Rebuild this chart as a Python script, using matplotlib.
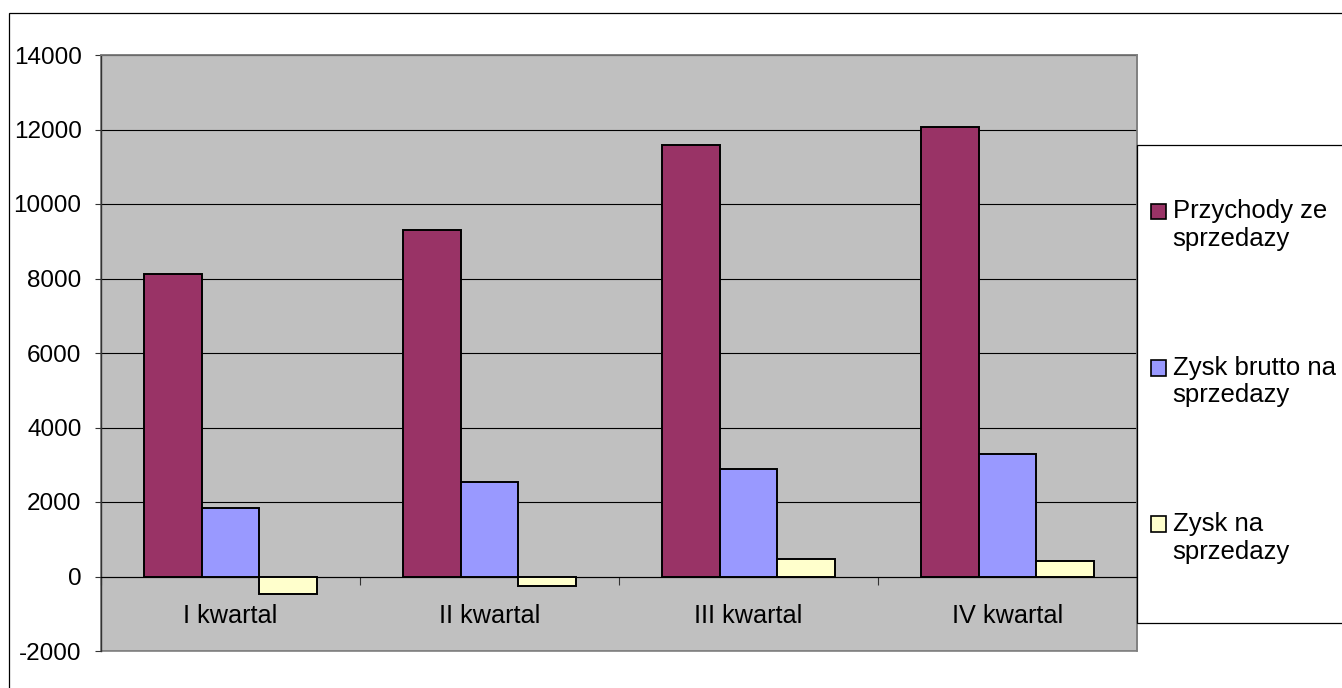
import matplotlib
matplotlib.use("Agg")
import matplotlib.pyplot as plt
import numpy as np
from matplotlib.patches import Rectangle
from matplotlib.legend_handler import HandlerPatch

categories = ["I kwartal", "II kwartal", "III kwartal", "IV kwartal"]
series_names = ["Przychody ze\nsprzedazy", "Zysk brutto na\nsprzedazy", "Zysk na\nsprzedazy"]
przychody = [8120, 9300, 11590, 12070]
zysk_brutto = [1830, 2540, 2895, 3280]
zysk_na = [-475, -250, 475, 420]
colors = ["#993366", "#9999FF", "#FFFFCC"]
yticks = [-2000, 0, 2000, 4000, 6000, 8000, 10000, 12000, 14000]

plt.rcParams['font.family'] = ['Liberation Sans', 'DejaVu Sans']
FS = 17.5
FS_CAT = 18.2
FS_LEG = 18.5

W, H = 1342, 688
fig = plt.figure(figsize=(W / 100, H / 100), dpi=100)
fig.patch.set_facecolor("white")

# chart area border
fig.patches.append(Rectangle((9 / W, -20 / H), 1400 / W, (H - 12.7 + 20) / H,
                             transform=fig.transFigure, facecolor="none",
                             edgecolor="black", linewidth=0.9, zorder=0))

L, R, T, B = 101, 1137, 55, 651
ax = fig.add_axes([L / W, 1 - B / H, (R - L) / W, (B - T) / H])
ax.set_facecolor("#C0C0C0")

x = np.arange(len(categories))
w = 1 / 4.5
data = [przychody, zysk_brutto, zysk_na]
bars = []
for i, (vals, c) in enumerate(zip(data, colors)):
    b = ax.bar(x + (i - 1) * w, vals, width=w, color=c, edgecolor="black",
               linewidth=1.4, zorder=3)
    bars.append(b)

ax.set_xlim(-0.5, len(categories) - 0.5)
ax.set_ylim(-2000, 14000)
ax.set_yticks(yticks)
ax.set_yticklabels([str(v) for v in yticks])
ax.yaxis.grid(True, color="black", linewidth=0.8, zorder=1)
ax.set_axisbelow(True)

ax.set_xticks(x)
ax.set_xticklabels(categories)
ax.set_xticks(np.arange(-0.5, len(categories), 1.0), minor=True)
ax.tick_params(axis="x", which="major", length=0, pad=19.5, labelsize=FS_CAT)
ax.tick_params(axis="x", which="minor", length=6, width=0.8, color="#333333", direction="out")
ax.tick_params(axis="y", which="major", length=4, width=0.8, color="#333333", pad=10,
               labelsize=FS)

ax.spines["bottom"].set_position(("data", 0))
ax.spines["bottom"].set_color("black")
ax.spines["bottom"].set_linewidth(0.8)
ax.spines["left"].set_color("#333333")
ax.spines["left"].set_linewidth(1.0)
for s in ["top", "right"]:
    ax.spines[s].set_color("#808080")
    ax.spines[s].set_linewidth(1.2)

# bottom border of plot area
ax.add_patch(Rectangle((0, 0), 1, 1, transform=ax.transAxes, facecolor="none",
                       edgecolor="#808080", linewidth=1.2, zorder=0.5, clip_on=False))

# legend box
LB_T, LB_B = 145, 622.7
fig.patches.append(Rectangle((1137 / W, 1 - LB_B / H), 400 / W, (LB_B - LB_T) / H,
                             transform=fig.transFigure, facecolor="white",
                             edgecolor="black", linewidth=0.9, zorder=5))


def make_square(legend, orig_handle, xdescent, ydescent, width, height, fontsize):
    side = width
    return Rectangle((-xdescent, -ydescent + height / 2 - side / 2 + 0.55 * fontsize),
                     side, side)


handles = [b[0] for b in bars]
leg = fig.legend(handles, series_names, loc="center left",
                 bbox_to_anchor=(1150.7 / W, 1 - 381.5 / H),
                 bbox_transform=fig.transFigure,
                 frameon=False, fontsize=FS_LEG, borderpad=0, borderaxespad=0,
                 handlelength=0.6, handleheight=0.6, handletextpad=0.25,
                 labelspacing=4.06,
                 handler_map={Rectangle: HandlerPatch(patch_func=make_square)})
leg.set_zorder(6)
for h in leg.legend_handles:
    h.set_linewidth(1.2)

fig.savefig("out.png", dpi=100)
